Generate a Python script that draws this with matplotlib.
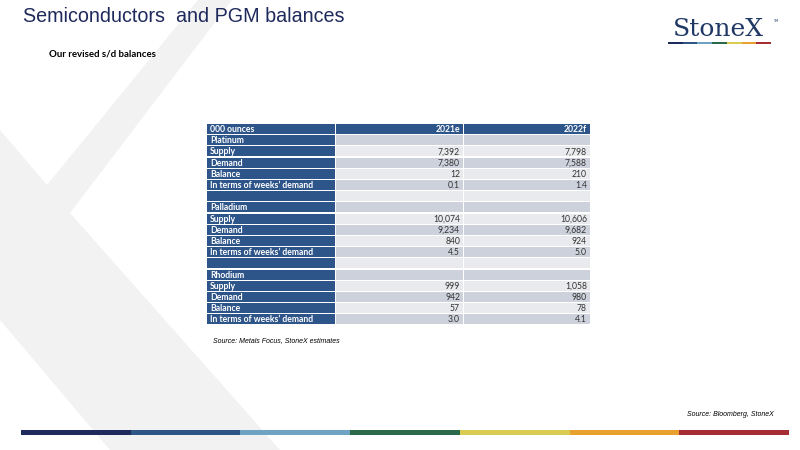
import matplotlib.pyplot as plt
from matplotlib.patches import Rectangle, Polygon

# table content
col_headers = ["000 ounces", "2021e", "2022f"]
row_labels = ["Platinum", "Supply", "Demand", "Balance", "In terms of weeks\u2019 demand", "",
              "Palladium", "Supply", "Demand", "Balance", "In terms of weeks\u2019 demand", "",
              "Rhodium", "Supply", "Demand", "Balance", "In terms of weeks\u2019 demand"]
vals_2021 = ["", "7,392", "7,380", "12", "0.1", "",
             "", "10,074", "9,234", "840", "4.5", "",
             "", "999", "942", "57", "3.0"]
vals_2022 = ["", "7,798", "7,588", "210", "1.4", "",
             "", "10,606", "9,682", "924", "5.0", "",
             "", "1,058", "980", "78", "4.1"]

stripe_colors = ["#1f2a5c", "#2f5486", "#70a2c4", "#2a6a4b", "#d9cc52", "#e8a02f", "#a52d33"]

navy = "#2e5589"
dark_cell = "#cdd1dc"
light_cell = "#e9eaee"

fig = plt.figure(figsize=(8, 4.5), dpi=100)
ax = fig.add_axes([0, 0, 1, 1])
ax.set_xlim(0, 800)
ax.set_ylim(450, 0)
ax.axis("off")

# background chevron
ax.add_patch(Polygon([(198, 0), (232, 0), (70, 213), (280, 450), (110, 450), (0, 320),
                      (0, 130), (47, 185)], closed=True, color="#f2f2f2", lw=0, zorder=0))

# title + subtitle
ax.text(23, 17, "Semiconductors  and PGM balances", fontsize=14.2, color="#1f2a5c",
        family="Liberation Sans", va="center", ha="left")
ax.text(49, 54, "Our revised s/d balances", fontsize=6.9, fontweight="bold",
        family="Lato", va="center", ha="left")

# logo
ax.text(718, 30, "StoneX", fontsize=18, color="#1f3864", family="DejaVu Serif",
        ha="center", va="center")
ax.text(776, 21, "TM", fontsize=2.5, color="#1f3864", ha="center", va="center")
seg = (771 - 668) / len(stripe_colors)
for i, c in enumerate(stripe_colors):
    ax.add_patch(Rectangle((668 + i * seg, 41.5), seg, 2.2, color=c, lw=0))

# table
x0, x1, x2, x3 = 207, 336, 464, 591
top, rh = 124, 11.2
gap = 1.2
tf = dict(family="Lato", fontsize=6.2)

def cell(x, y, w, color):
    ax.add_patch(Rectangle((x, y), w - gap, rh - gap, color=color, lw=0, zorder=2))

y = top
cell(x0, y, x1 - x0, navy)
cell(x1, y, x2 - x1, navy)
cell(x2, y, x3 - x2, navy)
ax.text(x0 + 3, y + rh / 2, col_headers[0], color="white", fontweight="bold", va="center", zorder=3, **tf)
ax.text(x2 - 4, y + rh / 2, col_headers[1], color="white", fontweight="bold", va="center", ha="right", zorder=3, **tf)
ax.text(x3 - 4, y + rh / 2, col_headers[2], color="white", fontweight="bold", va="center", ha="right", zorder=3, **tf)

for i, lab in enumerate(row_labels):
    y = top + (i + 1) * rh
    fill = dark_cell if i % 2 == 0 else light_cell
    cell(x0, y, x1 - x0, navy)
    cell(x1, y, x2 - x1, fill)
    cell(x2, y, x3 - x2, fill)
    ax.text(x0 + 3, y + rh / 2, lab, color="white", fontweight="bold", va="center", zorder=3, **tf)
    ax.text(x2 - 4, y + rh / 2, vals_2021[i], color="#333333", va="center", ha="right", zorder=3, **tf)
    ax.text(x3 - 4, y + rh / 2, vals_2022[i], color="#333333", va="center", ha="right", zorder=3, **tf)

ax.text(213, 341, "Source: Metals Focus, StoneX estimates", fontsize=5.0, style="italic",
        family="Liberation Sans", va="center", ha="left")
ax.text(774, 414, "Source: Bloomberg, StoneX", fontsize=5.0, style="italic",
        family="Liberation Sans", va="center", ha="right")

# bottom stripe
bw = (789 - 21) / len(stripe_colors)
for i, c in enumerate(stripe_colors):
    ax.add_patch(Rectangle((21 + i * bw, 430), bw, 4.5, color=c, lw=0))

fig.savefig("out.png", dpi=100)
